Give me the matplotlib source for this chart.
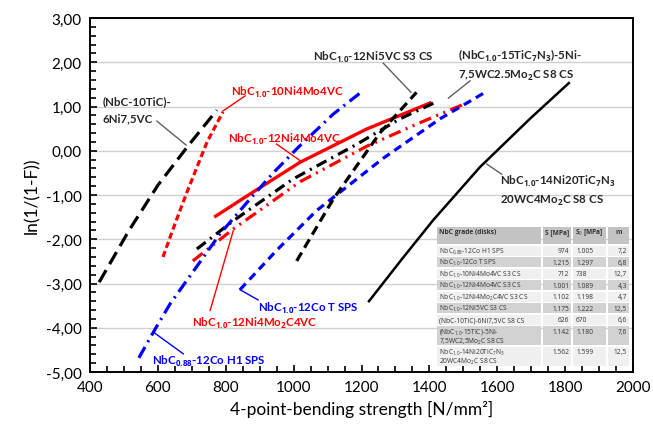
import matplotlib
matplotlib.use("Agg")
import matplotlib.pyplot as plt
from matplotlib.ticker import MultipleLocator, FuncFormatter
from matplotlib.patches import Rectangle

plt.rcParams['font.family'] = ['Lato', 'DejaVu Sans']
plt.rcParams['mathtext.fontset'] = 'custom'
plt.rcParams['mathtext.rm'] = 'Open Sans'
plt.rcParams['mathtext.bf'] = 'Open Sans:bold'
plt.rcParams['lines.scale_dashes'] = False

# ---------------- data ----------------
h1_x = [544, 592, 636, 690, 783, 876, 945, 1014, 1117, 1205]
h1_y = [-4.68, -4.03, -3.46, -2.88, -1.88, -1.05, -0.46, 0.08, 0.83, 1.36]

tsps_x = [842, 950, 1068, 1264, 1431, 1564]
tsps_y = [-3.14, -2.25, -1.35, -0.17, 0.72, 1.32]

ni10_x = [615, 650, 686, 745, 792]
ni10_y = [-2.40, -1.66, -0.93, 0.20, 0.88]

ni12_x = [770, 871, 1019, 1215, 1402]
ni12_y = [-1.48, -0.98, -0.26, 0.49, 1.08]

mo2c_x = [703, 822, 1019, 1215, 1362, 1510]
mo2c_y = [-2.49, -1.77, -0.70, 0.10, 0.60, 1.08]

ni5_x = [1009, 1117, 1254, 1362]
ni5_y = [-2.49, -1.09, 0.40, 1.32]

tic10_x = [427, 515, 600, 690, 774]
tic10_y = [-2.97, -1.80, -0.78, 0.12, 0.92]

tic15_x = [715, 821, 998, 1187, 1313, 1425]
tic15_y = [-2.22, -1.59, -0.64, 0.15, 0.72, 1.12]

ni20_x = [1222, 1320, 1411, 1549, 1696, 1811]
ni20_y = [-3.40, -2.44, -1.57, -0.37, 0.72, 1.53]

table_header = ["NbC grade (disks)", "S [MPa]", "S$_0$ [MPa]", "m"]
table_grades = [
    "NbC$_{0.88}$-12Co H1 SPS",
    "NbC$_{1.0}$-12Co T SPS",
    "NbC$_{1.0}$-10Ni4Mo4VC S3 CS",
    "NbC$_{1.0}$-12Ni4Mo4VC S3 CS",
    "NbC$_{1.0}$-12Ni4Mo$_2$C4VC S3 CS",
    "NbC$_{1.0}$-12Ni5VC S3 CS",
    "(NbC-10TiC)-6Ni7,5VC S8 CS",
    "(NbC$_{1.0}$-15TiC)-5Ni-\n7,5WC2,5Mo$_2$C S8 CS",
    "NbC$_{1.0}$-14Ni20TiC$_7$N$_3$\n20WC4Mo$_2$C S8 CS",
]
table_S = ["974", "1.215", "712", "1.001", "1.102", "1.175", "626", "1.142", "1.562"]
table_S0 = ["1.005", "1.297", "738", "1.089", "1.198", "1.222", "670", "1.180", "1.599"]
table_m = ["7,2", "6,8", "12,7", "4,3", "4,7", "12,5", "6,6", "7,6", "12,5"]

# ---------------- figure ----------------
fig = plt.figure(figsize=(6.53, 4.35), dpi=100)
ax = fig.add_axes([90/653, 62/435, 543/653, 354/435])

ax.set_xlim(400, 2000)
ax.set_ylim(-5, 3)
ax.xaxis.set_major_locator(MultipleLocator(200))
ax.xaxis.set_minor_locator(MultipleLocator(50))
ax.yaxis.set_major_locator(MultipleLocator(1))
ax.yaxis.set_minor_locator(MultipleLocator(0.2))
ax.yaxis.set_major_formatter(FuncFormatter(lambda v, p: f"{v:.2f}".replace(".", ",").replace("-0,00", "0,00")))
ax.tick_params(which='both', direction='in', top=False, right=False, width=1.2, color='black')
ax.tick_params(which='major', length=5, labelsize=11, pad=6)
ax.tick_params(which='minor', length=4)
for s in ax.spines.values():
    s.set_linewidth(1.4)
ax.grid(axis='y', which='major', color='#d0d0d0', lw=1.0)
ax.set_axisbelow(True)
ax.set_xlabel("4-point-bending strength [N/mm²]", fontsize=12.5, labelpad=4)
ax.set_ylabel("ln(1/(1-F))", fontsize=12.5, labelpad=4)

lw = 2.3
ax.plot(tic10_x, tic10_y, color='black', lw=lw, dashes=(10, 5))
ax.plot(ni10_x, ni10_y, color='red', lw=lw, dashes=(4.5, 2.5))
ax.plot(ni12_x, ni12_y, color='red', lw=2.4)
ax.plot(mo2c_x, mo2c_y, color='red', lw=lw, dashes=(9, 4, 1.5, 4, 1.5, 4))
ax.plot(tic15_x, tic15_y, color='black', lw=lw, dashes=(8, 4, 1.5, 4))
ax.plot(h1_x, h1_y, color='blue', lw=lw, dashes=(9, 4, 1.5, 4))
ax.plot(tsps_x, tsps_y, color='blue', lw=lw, dashes=(6, 4))
ax.plot(ni5_x, ni5_y, color='black', lw=lw, dashes=(7, 4))
ax.plot(ni20_x, ni20_y, color='black', lw=1.8)

# ---------------- annotations ----------------
fs = 8.3
def leader(p0, p1, color):
    ax.plot([p0[0], p1[0]], [p0[1], p1[1]], color=color, lw=1.0)

gray = '#606060'
dark = '#262626'
ax.text(438, 0.94, "(NbC-10TiC)-\n6Ni7,5VC", fontsize=fs, fontweight='bold', color=dark,
        ha='left', va='center', linespacing=1.75)
leader((597, 0.67), (683, 0.13), gray)

ax.text(815, 1.33, r"NbC$_{\mathbf{1.0}}$-10Ni4Mo4VC", fontsize=fs, fontweight='bold', color='red',
        ha='left', va='center')
leader((857, 1.24), (792, 0.90), 'red')

ax.text(807, 0.27, r"NbC$_{\mathbf{1.0}}$-12Ni4Mo4VC", fontsize=fs, fontweight='bold', color='red',
        ha='left', va='center')
leader((950, 0.15), (1024, -0.25), 'red')

ax.text(1057, 2.12, r"NbC$_{\mathbf{1.0}}$-12Ni5VC S3 CS", fontsize=fs, fontweight='bold', color=dark,
        ha='left', va='center')
leader((1264, 1.98), (1346, 1.32), gray)

ax.text(1484, 1.95, "(NbC$_{\\mathbf{1.0}}$-15TiC$_{\\mathbf{7}}$N$_{\\mathbf{3}}$)-5Ni-\n7,5WC2.5Mo$_{\\mathbf{2}}$C S8 CS",
        fontsize=fs, fontweight='bold', color=dark, ha='left', va='center', linespacing=1.5)
leader((1520, 1.58), (1456, 1.19), gray)

ax.text(1608, -0.88, "NbC$_{\\mathbf{1.0}}$-14Ni20TiC$_{\\mathbf{7}}$N$_{\\mathbf{3}}$\n20WC4Mo$_{\\mathbf{2}}$C S8 CS",
        fontsize=fs, fontweight='bold', color=dark, ha='left', va='center', linespacing=1.5)
leader((1613, -0.53), (1569, -0.30), gray)

ax.text(895, -3.55, r"NbC$_{\mathbf{1.0}}$-12Co T SPS", fontsize=fs, fontweight='bold', color='blue',
        ha='left', va='center')
leader((895, -3.37), (842, -3.14), 'blue')

ax.text(700, -3.89, r"NbC$_{\mathbf{1.0}}$-12Ni4Mo$_{\mathbf{2}}$C4VC", fontsize=fs, fontweight='bold', color='red',
        ha='left', va='center')
leader((754, -3.61), (822, -1.81), 'red')

ax.text(583, -4.73, r"NbC$_{\mathbf{0.88}}$-12Co H1 SPS", fontsize=fs, fontweight='bold', color='blue',
        ha='left', va='center')
leader((675, -4.59), (587, -4.10), 'blue')

# ---------------- table ----------------
tax = fig.add_axes([436/653, (435-367)/435, 194/653, 140/435])
tax.set_xlim(0, 194)
tax.set_ylim(140, 0)
tax.axis('off')
col_edges = [0, 106, 136, 171, 194]
row_h = [19, 11.5, 11.5, 11.5, 11.5, 11.5, 11.5, 11.5, 20.5, 20.5]
rows = [table_header] + [[g, s, s0, m] for g, s, s0, m in zip(table_grades, table_S, table_S0, table_m)]
y = 0
tcol = '#333333'
tfs = 4.75
tfam = ['Open Sans', 'DejaVu Sans']
for i, (h, r) in enumerate(zip(row_h, rows)):
    if i == 0:
        bg = '#c4c4c4'
    elif i % 2 == 1:
        bg = '#f0f0f0'
    else:
        bg = '#d2d2d2'
    for j in range(4):
        x0, x1 = col_edges[j], col_edges[j + 1]
        tax.add_patch(Rectangle((x0 + 0.8, y + 0.8), x1 - x0 - 1.6, h - 1.6, facecolor=bg,
                                edgecolor='none'))
        txt = r[j]
        kw = dict(fontsize=tfs, color=tcol, family=tfam, va='center')
        if i == 0:
            if j == 0:
                tax.text(x0 + 3, y + 5.5, txt, fontweight='bold', ha='left', **kw)
            else:
                tax.text((x0 + x1) / 2, y + 5.5, txt, fontweight='bold', ha='center', **kw)
        else:
            if j == 0:
                parts = txt.split("\n")
                tax.text(x0 + 3, y + 5.6, parts[0], ha='left', **kw)
                if len(parts) > 1:
                    tax.text(x0 + 3, y + 15.3, parts[1], ha='left', **kw)
            elif j == 2:
                tax.text(x0 + 4, y + 5.6, txt, ha='left', **kw)
            else:
                tax.text(x1 - 3, y + 5.6, txt, ha='right', **kw)
    y += h

fig.savefig("out.png", dpi=100)
